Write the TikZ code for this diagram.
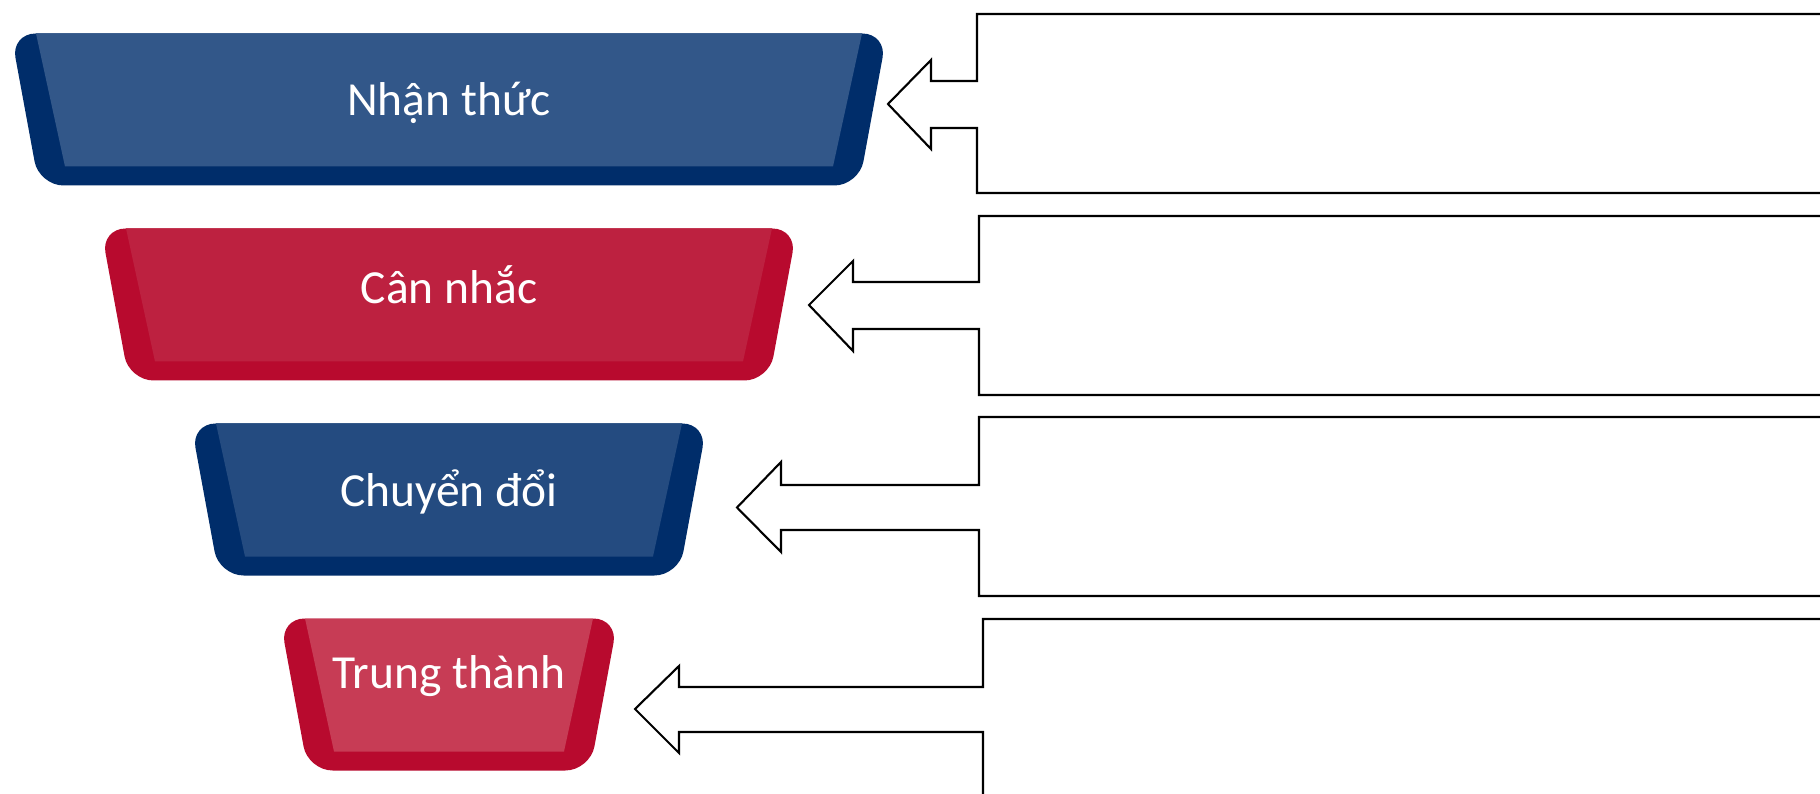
\documentclass[tikz,border=0pt]{standalone}
\usepackage{fontspec}
\setmainfont{Carlito}
\definecolor{navydark}{HTML}{002D6A}
\definecolor{navylight}{HTML}{325789}
\definecolor{navymid}{HTML}{244B80}
\definecolor{reddark}{HTML}{B80A2E}
\definecolor{redlight}{HTML}{BD2140}
\definecolor{redpale}{HTML}{C73C55}

\begin{document}
\begin{tikzpicture}[x=0.01cm, y=-0.01cm,
    stagetext/.style={text=white, anchor=base, font=\fontsize{13.5}{16}\selectfont},
    callout/.style={draw=black, line width=0.6pt}]
      \def\slant{28}
      \def\rim{25}
      \def\inner{54}
      \useasboundingbox[fill=white] (0,0) rectangle (1820,794);
      \clip (0,0) rectangle (1820,794);

      % funnel stages
      \fill[navydark, rounded corners=7pt] (449-438,33.5) -- (449+438,33.5) -- (449+438-\slant,185.5) -- (449-438+\slant,185.5) -- cycle;
      \fill[navylight] (449-438+\rim,33.5) -- (449+438-\rim,33.5) -- (449+438-\inner,166.5) -- (449-438+\inner,166.5) -- cycle;
      \node[stagetext] (s1) at (449,116) {Nhận thức};

      \fill[reddark, rounded corners=7pt] (449-348,228.5) -- (449+348,228.5) -- (449+348-\slant,380.5) -- (449-348+\slant,380.5) -- cycle;
      \fill[redlight] (449-348+\rim,228.5) -- (449+348-\rim,228.5) -- (449+348-\inner,361.5) -- (449-348+\inner,361.5) -- cycle;
      \node[stagetext] (s2) at (449,303.5) {Cân nhắc};

      \fill[navydark, rounded corners=7pt] (449-258,423.5) -- (449+258,423.5) -- (449+258-\slant,575.5) -- (449-258+\slant,575.5) -- cycle;
      \fill[navymid] (449-258+\rim,423.5) -- (449+258-\rim,423.5) -- (449+258-\inner,556.5) -- (449-258+\inner,556.5) -- cycle;
      \node[stagetext] (s3) at (449,506.5) {Chuyển đổi};

      \fill[reddark, rounded corners=7pt] (449-169,618.5) -- (449+169,618.5) -- (449+169-\slant,770.5) -- (449-169+\slant,770.5) -- cycle;
      \fill[redpale] (449-169+\rim,618.5) -- (449+169-\rim,618.5) -- (449+169-\inner,751.5) -- (449-169+\inner,751.5) -- cycle;
      \node[stagetext] (s4) at (449,689) {Trung thành};

      % callout boxes
      \draw[callout] (1830,14) -- (977,14) -- (977,81) -- (931,81) -- (931,60) -- (888,104) -- (931,149) -- (931,128) -- (977,128) -- (977,193) -- (1830,193);
      \draw[callout] (1830,216) -- (979,216) -- (979,282) -- (853,282) -- (853,261) -- (809,305) -- (853,351) -- (853,329) -- (979,329) -- (979,395) -- (1830,395);
      \draw[callout] (1830,417) -- (979,417) -- (979,485) -- (781,485) -- (781,462) -- (737,507.5) -- (781,552) -- (781,530) -- (979,530) -- (979,596) -- (1830,596);
      \draw[callout] (1830,619) -- (983,619) -- (983,687) -- (679,687) -- (679,666) -- (635,709) -- (679,753) -- (679,732) -- (983,732) -- (983,800);
    \end{tikzpicture}
\end{document}
